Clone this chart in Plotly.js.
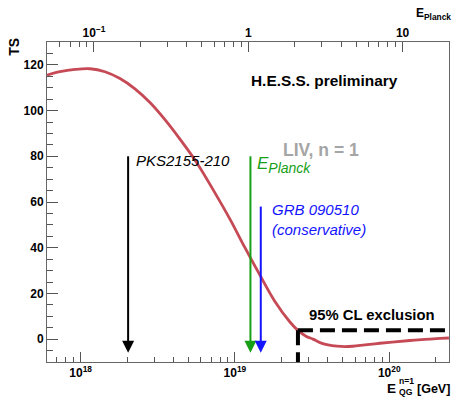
<!DOCTYPE html>
<html>
<head>
<meta charset="utf-8">
<script src="https://cdn.plot.ly/plotly-3.0.1.min.js"></script>
<style>html,body{margin:0;padding:0;background:#fff;}#chart{width:454px;height:398px;}</style>
</head>
<body>
<div id="chart"></div>
<script>
// ---- data ----
const E_PLANCK = 1.22e19; // GeV
const energyGeV = [6.05e17, 7.34e17, 9.19e17, 1.149e18, 1.437e18, 1.798e18, 2.249e18, 2.813e18,
  3.518e18, 4.40e18, 5.67e18, 7.42e18, 9.28e18, 1.161e19, 1.452e19, 1.816e19, 2.272e19,
  2.56e19, 2.885e19, 3.205e19, 3.557e19, 4.008e19, 4.58e19, 5.16e19, 5.82e19, 6.96e19,
  8.71e19, 1.089e20, 1.362e20, 1.703e20, 2.13e20, 2.437e20];
const tsValues = [115.5, 117.0, 118.0, 118.3, 117.0, 114.0, 109.5, 103.5,
  96.0, 87.5, 77.1, 64.0, 52.5, 40.0, 28.0, 16.5, 7.5,
  3.84, 1.3, 0.0, -1.5, -2.5, -3.1, -3.3, -3.1, -2.5,
  -1.8, -1.2, -0.6, -0.1, 0.3, 0.5];
const limitLabels = ['PKS2155-210', 'E', 'Planck', 'GRB 090510<br>(conservative)'];
const limitEnergies = [2.03e18, 1.26e19, 1.47e19];
const limitTopTS = [80, 80, 58];
const limitColors = ['#000000', '#17a017', '#1414ff'];
const arrowTipTS = -6;
const exclusionEnergy = 2.56e19;
const exclusionTS = 3.84;
const energyRange = [6.05e17, 2.44e20];
const tsRange = [-10, 130];

const FONT = 'Liberation Sans, Arial, Helvetica, sans-serif';
const lg = Math.log10;

const traces = [
  {x: energyGeV, y: tsValues, type: 'scatter', mode: 'lines',
   line: {color: '#c64a56', width: 2.8, shape: 'spline', smoothing: 1},
   hoverinfo: 'skip', showlegend: false},
  {x: [exclusionEnergy, energyRange[1]], y: [exclusionTS, exclusionTS], type: 'scatter', mode: 'lines',
   line: {color: '#000', width: 4, dash: '15px,7px'}, hoverinfo: 'skip', showlegend: false},
  {x: [exclusionEnergy, exclusionEnergy], y: [exclusionTS, tsRange[0]], type: 'scatter', mode: 'lines',
   line: {color: '#000', width: 4, dash: '15px,7px'}, hoverinfo: 'skip', showlegend: false},
  // invisible trace on the E/E_Planck axis
  {x: energyRange.map(e => e / E_PLANCK), y: [tsRange[0], tsRange[0]], xaxis: 'x2', yaxis: 'y',
   type: 'scatter', mode: 'lines', line: {width: 0}, opacity: 0, hoverinfo: 'skip', showlegend: false}
];
limitEnergies.forEach((e, i) => {
  traces.push({x: [e, e], y: [limitTopTS[i], arrowTipTS + 3], type: 'scatter', mode: 'lines',
    line: {color: limitColors[i], width: 2}, hoverinfo: 'skip', showlegend: false});
  traces.push({x: [e], y: [arrowTipTS], type: 'scatter', mode: 'markers',
    marker: {symbol: 'arrow-down', size: 12, color: limitColors[i], line: {width: 0}},
    cliponaxis: false, hoverinfo: 'skip', showlegend: false});
});

const annotations = [];
annotations.push({xref: 'x', yref: 'y', x: lg(limitEnergies[0]), y: 78, xanchor: 'left', yanchor: 'middle',
  xshift: 6, text: limitLabels[0], showarrow: false,
  font: {family: FONT, size: 15, style: 'italic', color: limitColors[0]}});
annotations.push({xref: 'x', yref: 'y', x: lg(limitEnergies[1]), y: 82, xanchor: 'left', yanchor: 'top',
  xshift: 5, text: limitLabels[1] + '<sub><span style="font-size:14px">' + limitLabels[2] + '</span></sub>', showarrow: false,
  font: {family: FONT, size: 17, style: 'italic', color: limitColors[1]}});
annotations.push({xref: 'x', yref: 'y', x: lg(limitEnergies[2]), y: 52.5, xanchor: 'left', yanchor: 'middle',
  xshift: 9, text: limitLabels[3], showarrow: false, align: 'left',
  font: {family: FONT, size: 15, style: 'italic', color: limitColors[2]}});
annotations.push({xref: 'paper', yref: 'paper', x: 0.6816, y: 0.6625, xanchor: 'center', yanchor: 'middle',
  text: 'LIV, n = 1', showarrow: false, font: {family: FONT, size: 17.5, weight: 'bold', color: '#a5a5a5'}});
annotations.push({xref: 'paper', yref: 'paper', x: 0.6915, y: 0.881, xanchor: 'center', yanchor: 'middle',
  text: 'H.E.S.S. preliminary', showarrow: false, font: {family: FONT, size: 15.4, weight: 'bold', color: '#000'}});
annotations.push({xref: 'paper', yref: 'paper', x: 0.8085, y: 0.147, xanchor: 'center', yanchor: 'middle',
  text: '95% CL exclusion', showarrow: false, font: {family: FONT, size: 14.8, weight: 'bold', color: '#000'}});
annotations.push({xref: 'paper', yref: 'paper', x: -0.082, y: 0.985, xanchor: 'center', yanchor: 'middle',
  textangle: -90, text: 'TS', showarrow: false, font: {family: FONT, size: 14, weight: 'bold', color: '#000'}});
annotations.push({xref: 'paper', yref: 'paper', x: 1.01, y: 1.055, xanchor: 'right', yanchor: 'bottom',
  text: 'E<sub>Planck</sub>', showarrow: false, font: {family: FONT, size: 12, weight: 'bold', color: '#000'}});
// bottom axis title: E with stacked n=1 / QG, then [GeV]
annotations.push({xref: 'paper', yref: 'paper', x: 0.871, y: -0.084, xanchor: 'right', yanchor: 'middle',
  text: 'E', showarrow: false, borderpad: 0, font: {family: FONT, size: 13.5, weight: 'bold', color: '#000'}});
annotations.push({xref: 'paper', yref: 'paper', x: 0.872, y: -0.076, xanchor: 'left', yanchor: 'middle',
  text: 'n=1<br>QG', showarrow: false, align: 'left', borderpad: 0,
  font: {family: FONT, size: 8.6, weight: 'bold', color: '#000'}});
annotations.push({xref: 'paper', yref: 'paper', x: 1.006, y: -0.084, xanchor: 'right', yanchor: 'middle',
  text: '[GeV]', showarrow: false, borderpad: 0, font: {family: FONT, size: 12.5, weight: 'bold', color: '#000'}});

const tickFontX = {family: FONT, size: 9.6, weight: 'bold', color: '#000'};
const axisCommon = {showgrid: false, zeroline: false, showline: true, linecolor: '#666', linewidth: 1,
  ticks: 'inside', tickcolor: '#555', tickwidth: 1};

const layout = {
  width: 454, height: 398,
  margin: {l: 47, r: 5, t: 42, b: 36},
  paper_bgcolor: '#fff', plot_bgcolor: '#fff',
  showlegend: false,
  xaxis: Object.assign({}, axisCommon, {
    type: 'log', range: [lg(energyRange[0]), lg(energyRange[1])],
    dtick: 1, exponentformat: 'power', ticklen: 10, tickfont: tickFontX,
    minor: {ticks: 'inside', dtick: 'D1', ticklen: 5, tickcolor: '#555', showgrid: false}
  }),
  xaxis2: Object.assign({}, axisCommon, {
    type: 'log', overlaying: 'x', side: 'top', anchor: 'y',
    range: [lg(energyRange[0] / E_PLANCK), lg(energyRange[1] / E_PLANCK)],
    dtick: 1, exponentformat: 'power', ticklen: 10, tickfont: tickFontX,
    minor: {ticks: 'inside', dtick: 'D1', ticklen: 5, tickcolor: '#555', showgrid: false}
  }),
  yaxis: Object.assign({}, axisCommon, {
    range: tsRange, dtick: 20, ticklen: 11, mirror: true,
    tickfont: {family: FONT, size: 12, weight: 'bold', color: '#000'},
    minor: {ticks: 'inside', dtick: 5, ticklen: 6, tickcolor: '#555', showgrid: false}
  }),
  annotations: annotations
};

Plotly.newPlot('chart', traces, layout, {staticPlot: true, displayModeBar: false});
</script>
</body>
</html>
